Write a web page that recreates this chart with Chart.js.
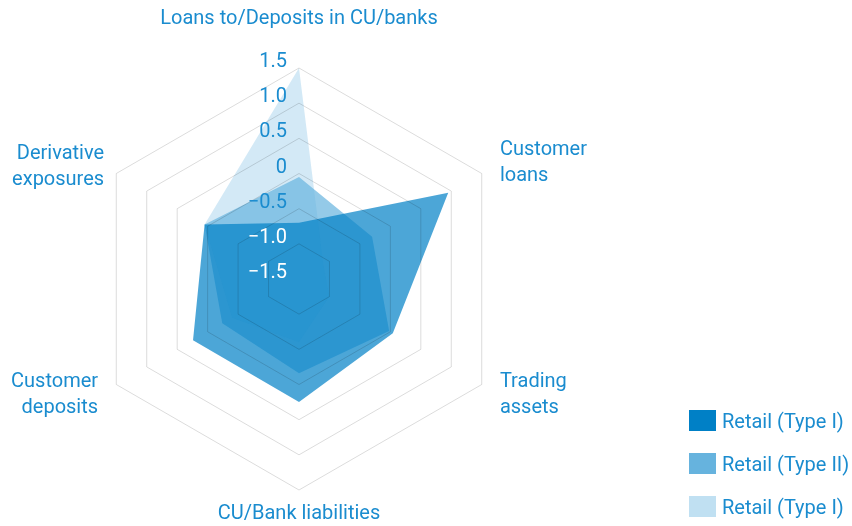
<!DOCTYPE html>
<html>
<head>
<meta charset="utf-8">
<script src="https://cdn.jsdelivr.net/npm/chart.js@4.4.1/dist/chart.umd.min.js"></script>
<style>
  html, body { margin: 0; padding: 0; background: #fff; }
  #wrap { position: relative; width: 852px; height: 526px; }
  #legend { position: absolute; left: 689px; top: 410px; font: 20px Roboto, sans-serif; color: #1a8ccf; }
  .item { display: flex; align-items: center; height: 21px; margin-bottom: 22px; white-space: nowrap; }
  .box { width: 27px; height: 21px; margin-right: 6px; box-sizing: border-box; }
</style>
</head>
<body>
<div id="wrap">
  <canvas id="radar" width="852" height="526"></canvas>
  <div id="legend"></div>
</div>
<script>
const axisLabels = [
  "Loans to/Deposits in CU/banks",
  ["Customer", "loans"],
  ["Trading", "assets"],
  "CU/Bank liabilities",
  ["Customer", "deposits"],
  ["Derivative", "exposures"]
];
const seriesNames = ["Retail (Type I)", "Retail (Type II)", "Retail (Type I)"];
const typeOneValues = [-0.7, 0.95, 0.04, 0.25, 0.24, 0.05];
const typeTwoValues = [-0.05, -0.3, -0.02, -0.16, -0.24, 0.05];
const typeOneLightValues = [1.5, -1.1, -1.0, -0.6, -0.4, 0.05];
const tickLabels = ["\u22121.5", "\u22121.0", "\u22120.5", "0", "0.5", "1.0", "1.5"];

const seriesColors = ["0,128,198", "102,179,222", "192,224,242"];
const textBlue = "#1a8ccf";
// extra distance of each axis title beyond the outer ring
const labelGap = [49, 21, 21, 24, 21, 14];

const allValues = [typeOneValues, typeTwoValues, typeOneLightValues];
const datasets = allValues.map(function(vals, i) {
  return {
    label: seriesNames[i],
    data: vals,
    backgroundColor: "rgba(" + seriesColors[i] + ",0.7)",
    borderWidth: 0,
    pointRadius: 0,
    fill: "start"
  };
});

const axisText = {
  id: "axisText",
  afterDraw(chart) {
    const ctx = chart.ctx;
    const scale = chart.scales.r;
    ctx.save();
    ctx.font = "20px Roboto";

    // value labels up the vertical axis
    ctx.textAlign = "right";
    ctx.textBaseline = "middle";
    scale.ticks.forEach(function(tick, i) {
      const dist = scale.getDistanceFromCenterForValue(tick.value);
      ctx.fillStyle = tick.value < -0.75 ? "#ffffff" : textBlue;
      ctx.fillText(tickLabels[i], scale.xCenter - 12, scale.yCenter - dist - 6);
    });

    // axis titles
    ctx.fillStyle = textBlue;
    axisLabels.forEach(function(label, i) {
      const pos = scale.getPointPosition(i, scale.drawingArea + labelGap[i]);
      const lines = Array.isArray(label) ? label : [label];
      if (Math.abs(pos.x - scale.xCenter) < 2) ctx.textAlign = "center";
      else if (pos.x > scale.xCenter) ctx.textAlign = "left";
      else ctx.textAlign = "right";
      const top = pos.y - (lines.length - 1) * 13;
      lines.forEach(function(line, j) {
        ctx.fillText(line, pos.x, top + j * 26);
      });
    });
    ctx.restore();
  }
};

const chart = new Chart(document.getElementById("radar"), {
  type: "radar",
  data: { labels: axisLabels, datasets: datasets },
  options: {
    responsive: false,
    animation: false,
    layout: { padding: { left: 88, top: 68, right: 342, bottom: 36 } },
    plugins: { legend: { display: false }, tooltip: { enabled: false } },
    scales: {
      r: {
        min: -1.5,
        max: 1.5,
        ticks: { stepSize: 0.5, display: false },
        pointLabels: { display: false },
        angleLines: { display: false },
        grid: { z: 1, color: "rgba(0,0,0,0.14)", lineWidth: 1 }
      }
    }
  },
  plugins: [axisText]
});

const legend = document.getElementById("legend");
chart.data.datasets.forEach(function(ds, i) {
  const item = document.createElement("div");
  item.className = "item";
  item.innerHTML = "<span class='box' style='background: rgb(" + seriesColors[i] + ")'></span>" + ds.label;
  legend.appendChild(item);
});
</script>
</body>
</html>
